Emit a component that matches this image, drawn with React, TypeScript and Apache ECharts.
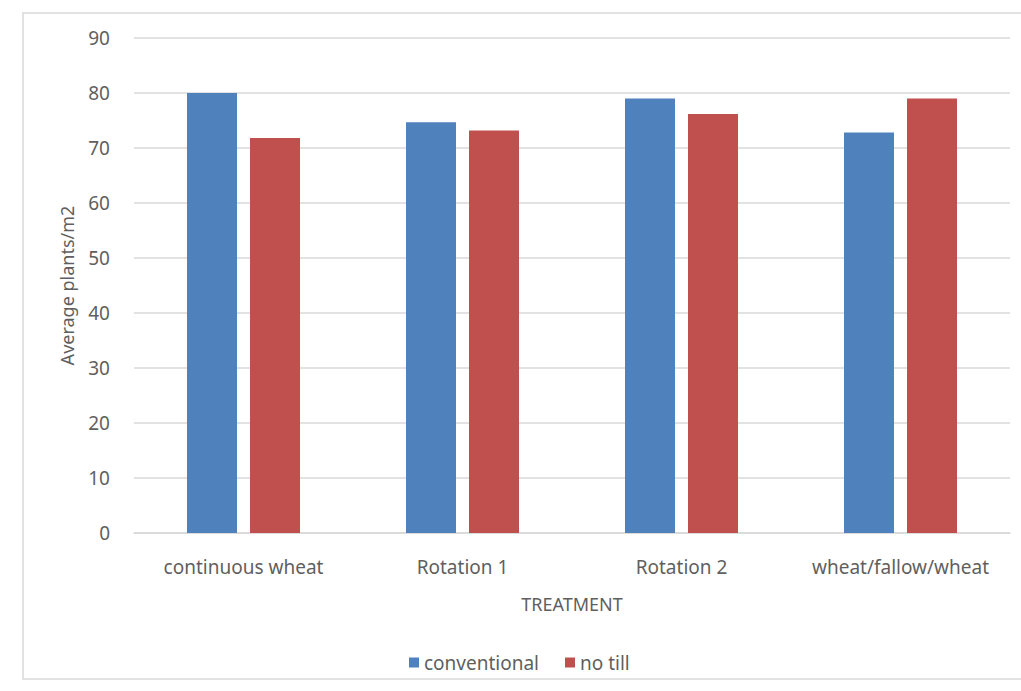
import React, { useEffect, useRef } from "react";
import * as echarts from "echarts";

const categories = ["continuous wheat", "Rotation 1", "Rotation 2", "wheat/fallow/wheat"];
const conventional = [80.0, 74.7, 79.0, 72.8];
const noTill = [71.8, 73.2, 76.2, 79.0];
const seriesNames = ["conventional", "no till"];
const yTicks = { min: 0, max: 90, interval: 10 };
const yAxisTitle = "Average plants/m2";
const xAxisTitle = "TREATMENT";

const FONT = "'Noto Sans', 'Open Sans', sans-serif";
const TEXT = "#5f5f5f";

export default function App() {
  const ref = useRef<HTMLDivElement>(null);
  useEffect(() => {
    if (!ref.current) return;
    const chart = echarts.init(ref.current, undefined, { renderer: "svg" });
    chart.setOption({
      animation: false,
      backgroundColor: "#ffffff",
      textStyle: { fontFamily: FONT, color: TEXT },
      graphic: [
        {
          type: "rect",
          shape: { x: 23, y: 13, width: 1100, height: 666 },
          style: { fill: "none", stroke: "#d9d9d9", lineWidth: 1.5 },
          silent: true,
        },
      ],
      grid: { left: 134, right: 11, top: 38, bottom: 158 },
      legend: {
        data: seriesNames,
        left: 404,
        top: 648,
        icon: "rect",
        itemWidth: 10,
        itemHeight: 10,
        itemGap: 26,
        textStyle: { fontFamily: FONT, color: TEXT, fontSize: 19 },
      },
      xAxis: {
        type: "category",
        data: categories,
        name: xAxisTitle,
        nameLocation: "middle",
        nameGap: 62,
        nameTextStyle: { fontFamily: FONT, color: TEXT, fontSize: 18 },
        axisLine: { show: true, lineStyle: { color: "#d9d9d9", width: 1.5 } },
        axisTick: { show: false },
        axisLabel: { interval: 0, margin: 24, fontFamily: FONT, color: TEXT, fontSize: 19 },
      },
      yAxis: {
        type: "value",
        min: yTicks.min,
        max: yTicks.max,
        interval: yTicks.interval,
        name: yAxisTitle,
        nameLocation: "middle",
        nameRotate: 90,
        nameGap: 58,
        nameTextStyle: { fontFamily: FONT, color: TEXT, fontSize: 18 },
        axisLine: { show: false },
        axisTick: { show: false },
        splitLine: { lineStyle: { color: "#d9d9d9", width: 1.5 } },
        axisLabel: { margin: 24, fontFamily: FONT, color: TEXT, fontSize: 19 },
      },
      series: [
        {
          name: seriesNames[0],
          type: "bar",
          data: conventional,
          barWidth: 50,
          barGap: "26%",
          itemStyle: { color: "#4F81BD" },
        },
        {
          name: seriesNames[1],
          type: "bar",
          data: noTill,
          barWidth: 50,
          barGap: "26%",
          itemStyle: { color: "#C0504D" },
        },
      ],
    });
    return () => chart.dispose();
  }, []);
  return (
    <div
      ref={ref}
      style={{ position: "absolute", left: 0, top: 0, width: 1021, height: 691, background: "#fff" }}
    />
  );
}
